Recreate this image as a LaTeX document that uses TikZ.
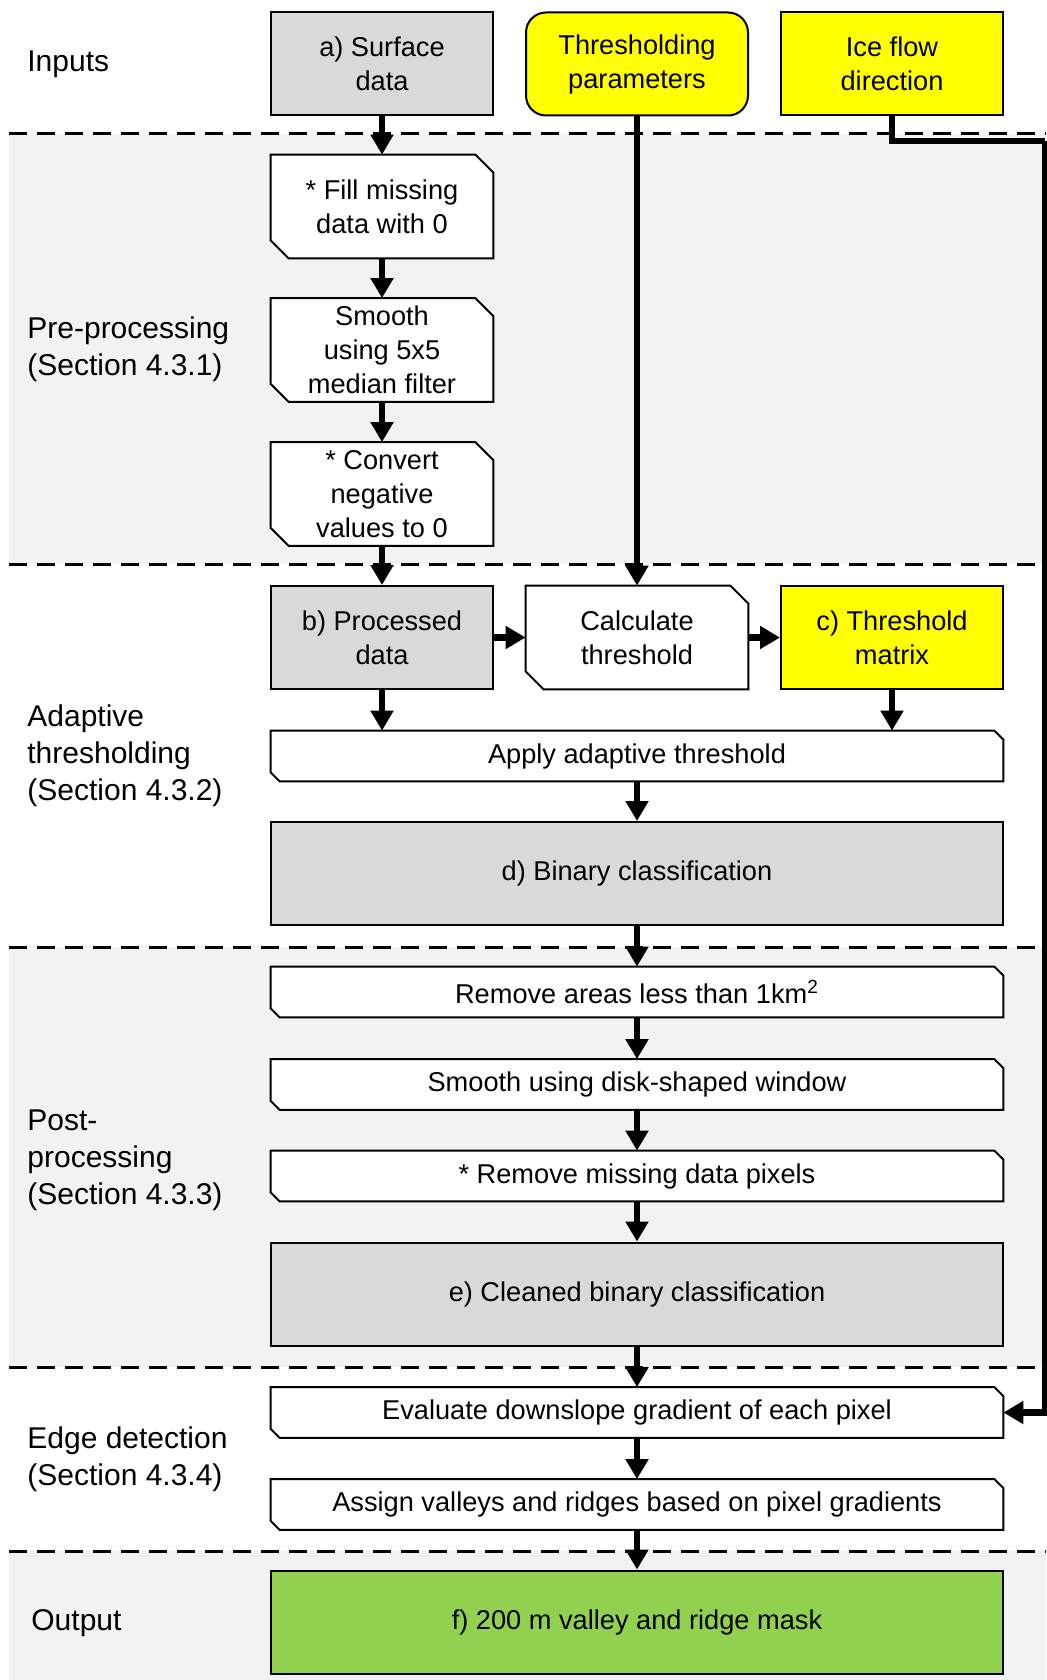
\documentclass[tikz,border=0pt]{standalone}
\usepackage{fontspec}
\setmainfont{Liberation Sans}
\usetikzlibrary{arrows.meta}
\definecolor{wfGrey}{RGB}{217,217,217}
\definecolor{wfBand}{RGB}{242,242,242}
\definecolor{wfYellow}{RGB}{255,255,0}
\definecolor{wfGreen}{RGB}{146,208,80}
\pgfdeclarelayer{background}
\pgfsetlayers{background,main}
\newcommand{\boxfont}{\fontsize{13.6}{17}\selectfont}
\newcommand{\labelfont}{\fontsize{15}{18.5}\selectfont}
\newcommand{\snipbox}[2]{%
  \draw[fill=white,draw=black,line width=1pt]
    (#1.north west)--([xshift=-#2]#1.north east)--([yshift=-#2]#1.north east)
    --(#1.south east)--([xshift=#2]#1.south west)--([yshift=#2]#1.south west)--cycle;
}

\begin{document}
\begin{tikzpicture}[x=0.5pt,y=-0.5pt,
  boxtext/.style={inner sep=0pt,align=center,font=\boxfont,
    minimum width=111pt,minimum height=51.5pt},
  widebox/.style={boxtext,minimum width=366pt},
  thinbox/.style={widebox,minimum height=25pt},
  filled/.style={draw=black,line width=1pt,fill=#1},
  sectlabel/.style={anchor=west,align=left,inner sep=0pt,font=\labelfont},
  flowarrow/.style={line width=3.3pt,-{Triangle[width=11pt,length=10pt]}},
  flowline/.style={line width=3.3pt}]
  \useasboundingbox (0,0) rectangle (1046,1680);

  % inputs
  \node[boxtext,filled=wfGrey] (surf) at (382,64) {a) Surface\\data};
  \node[boxtext,filled=wfYellow,rounded corners=10pt] (param) at (637,64) {Thresholding\\parameters};
  \node[boxtext,filled=wfYellow] (flow) at (892,64) {Ice flow\\direction};

  % pre-processing
  \node[boxtext] (fill) at (382,206.5) {* Fill missing\\data with 0};
  \node[boxtext] (smooth) at (382,350) {Smooth\\using 5x5\\median filter};
  \node[boxtext] (convert) at (382,494) {* Convert\\negative\\values to 0};

  % adaptive thresholding
  \node[boxtext,filled=wfGrey] (proc) at (382,637.5) {b) Processed\\data};
  \node[boxtext] (calc) at (637,637.5) {Calculate\\threshold};
  \node[boxtext,filled=wfYellow] (thr) at (892,637.5) {c) Threshold\\matrix};
  \node[thinbox] (apply) at (637,756) {Apply adaptive threshold};
  \node[widebox,filled=wfGrey] (binary) at (637,873.5) {d) Binary classification};

  % post-processing
  \node[thinbox] (remove) at (637,992) {Remove areas less than 1km\textsuperscript{2}};
  \node[thinbox] (disk) at (637,1084.5) {Smooth using disk-shaped window};
  \node[thinbox] (missing) at (637,1176) {* Remove missing data pixels};
  \node[widebox,filled=wfGrey] (clean) at (637,1294) {e) Cleaned binary classification};

  % edge detection
  \node[thinbox] (eval) at (637,1412.5) {Evaluate downslope gradient of each pixel};
  \node[thinbox] (assign) at (637,1504.5) {Assign valleys and ridges based on pixel gradients};

  % output
  \node[widebox,filled=wfGreen] (mask) at (637,1622) {f) 200 m valley and ridge mask};

  % section labels
  \node[sectlabel] (linputs) at (27,64) {Inputs};
  \node[sectlabel] (lpre) at (27,349.5) {Pre-processing\\(Section 4.3.1)};
  \node[sectlabel] (ladapt) at (27,756) {Adaptive\\thresholding\\(Section 4.3.2)};
  \node[sectlabel] (lpost) at (27,1160) {Post-\\processing\\(Section 4.3.3)};
  \node[sectlabel] (ledge) at (27,1459) {Edge detection\\(Section 4.3.4)};
  \node[sectlabel] (lout) at (31,1623) {Output};

  \begin{pgfonlayer}{background}
    \fill[wfBand] (9,134) rectangle (1046,564);
    \fill[wfBand] (9,947) rectangle (1046,1367);
    \fill[wfBand] (9,1551) rectangle (1046,1680);
    \foreach \y in {134,564,947,1367,1551}
      \draw[line width=1.5pt,dash pattern=on 9pt off 5pt] (9,\y) -- (1046,\y);
    \snipbox{fill}{9pt}
    \snipbox{smooth}{9pt}
    \snipbox{convert}{9pt}
    \snipbox{calc}{9pt}
    \foreach \n in {apply,remove,disk,missing,eval,assign}{
      \snipbox{\n}{4.5pt}
    }
  \end{pgfonlayer}

  % connectors
  \coordinate (flowturn) at (1045,141);
  \draw[flowarrow] (surf) -- (fill);
  \draw[flowarrow] (fill) -- (smooth);
  \draw[flowarrow] (smooth) -- (convert);
  \draw[flowarrow] (convert) -- (proc);
  \draw[flowarrow] (param) -- (calc);
  \draw[flowarrow] (proc) -- (calc);
  \draw[flowarrow] (calc) -- (thr);
  \draw[flowarrow] (proc.south) -- (proc.south |- apply.north);
  \draw[flowarrow] (thr.south) -- (thr.south |- apply.north);
  \draw[flowarrow] (apply) -- (binary);
  \draw[flowarrow] (binary) -- (remove);
  \draw[flowarrow] (remove) -- (disk);
  \draw[flowarrow] (disk) -- (missing);
  \draw[flowarrow] (missing) -- (clean);
  \draw[flowarrow] (clean) -- (eval);
  \draw[flowarrow] (eval) -- (assign);
  \draw[flowarrow] (assign) -- (mask);
  \draw[flowline] (flow.south) |- (flowturn);
  \draw[flowarrow] (flowturn) |- (eval.east);
\end{tikzpicture}
\end{document}
